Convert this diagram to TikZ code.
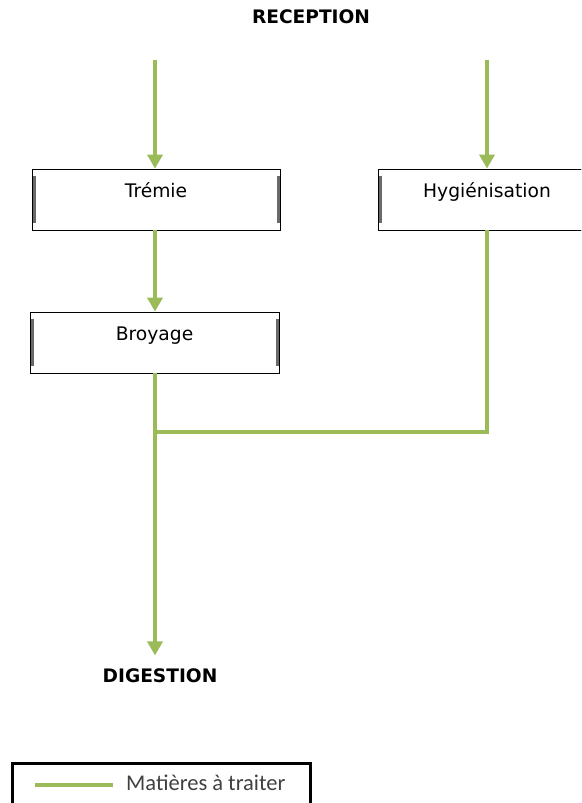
\documentclass[tikz,border=0pt]{standalone}
\usepackage{fontspec}
\setmainfont{DejaVu Sans}
\newfontfamily\legendfont{Carlito}
\usepackage{xcolor}
\definecolor{flowgreen}{RGB}{155,187,89}
\definecolor{bargray}{RGB}{105,105,105}
\definecolor{legendtext}{RGB}{64,64,64}
\usetikzlibrary{arrows.meta}

\begin{document}
\begin{tikzpicture}[x=1pt, y=-1pt,
  flow/.style={draw=flowgreen, line width=4pt, -{Triangle[width=15pt,length=14pt]}},
  flowline/.style={draw=flowgreen, line width=4pt},
  procbox/.style={draw=black, line width=0.8pt, rectangle, inner sep=0pt,
    minimum height=61pt, text height=28pt, text depth=33pt,
    font=\fontsize{18.7}{22}\selectfont,
    path picture={
      \draw[bargray, line width=3pt]
        ([xshift=2pt,yshift=-7pt]path picture bounding box.north west) --
        ([xshift=2pt,yshift=7pt]path picture bounding box.south west)
        ([xshift=-2pt,yshift=-7pt]path picture bounding box.north east) --
        ([xshift=-2pt,yshift=7pt]path picture bounding box.south east);}},
  title/.style={font=\bfseries\fontsize{18.6}{22}\selectfont}]

  \useasboundingbox (0,0) rectangle (581,803);
  \clip (0,0) rectangle (581,803);

  % Titles
  \node[title] (reception) at (311,17) {RECEPTION};
  \node[title] (digestion) at (160,676) {DIGESTION};

  % Process boxes
  \node[procbox, minimum width=248pt] (tremie) at (156,199.5) {Trémie};
  \node[procbox, minimum width=218pt] (hyg) at (487,199.5) {Hygiénisation};
  \node[procbox, minimum width=249pt] (broyage) at (154.5,342.5) {Broyage};

  % Incoming material
  \coordinate (inL) at (155,60);
  \coordinate (inR) at (487,60);
  \draw[flow] (inL) -- (inL |- tremie.north);
  \draw[flow] (inR) -- (hyg.north);
  \draw[flow] (tremie.south -| inL) -- (inL |- broyage.north);

  % Both lines merge towards digestion
  \coordinate (join) at (155,432);
  \draw[flowline] (hyg.south) -- (hyg.south |- join) -- (join);
  \draw[flow] (broyage.south -| join) -- ([yshift=10pt]digestion.north -| join);

  % Legend
  \draw[line width=3pt] (12,763) rectangle (310,820);
  \draw[flowline] (35,785) -- (113,785);
  \node[anchor=base west, inner sep=0pt, text=legendtext,
        font=\legendfont\fontsize{22.5}{26}\selectfont] (legendlabel) at (126,790)
       {Matières à traiter};
\end{tikzpicture}
\end{document}
